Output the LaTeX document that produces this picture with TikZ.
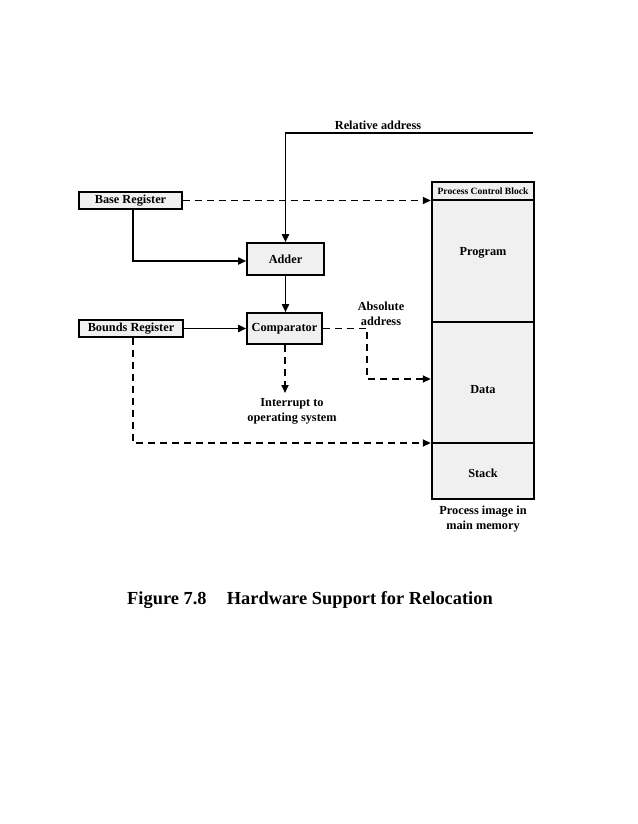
\documentclass[tikz,border=0pt]{standalone}
\usepackage{fontspec}
\setmainfont{Liberation Serif}
\usetikzlibrary{arrows.meta,patterns}
\begin{document}
\begin{tikzpicture}[x=1pt,y=-1pt,
  lbl/.style={font=\fontsize{12.3}{14.5}\selectfont\bfseries},
  regbox/.style={draw,line width=1.6pt,fill=gray!12,font=\fontsize{12.3}{14}\selectfont\bfseries,inner sep=0pt},
  memseg/.style={draw,line width=2.4pt,fill=gray!12,inner sep=0pt},
  conn/.style={line width=1.7pt,-{Triangle[length=8pt,width=7pt]}},
  dconn/.style={conn,dash pattern=on 7pt off 5pt}]
\useasboundingbox (0,0) rectangle (637,824);
% registers and units
\node[regbox,minimum width=103pt,minimum height=17pt] (base) at (130.5,200.5) {Base Register};
\node[regbox,minimum width=104pt,minimum height=17pt] (bounds) at (131,328.5) {Bounds Register};
\node[regbox,minimum width=77pt,minimum height=32pt] (adder) at (285.5,259) {Adder};
\node[regbox,minimum width=75pt,minimum height=31pt] (comp) at (284.5,328.5) {Comparator};
% memory
\node[memseg,minimum width=102pt,minimum height=18pt,font=\fontsize{9.6}{11}\selectfont\bfseries] (pcb) at (483,191) {Process Control Block};
\node[memseg,minimum width=102pt,minimum height=122pt,lbl] (prog) at (483,261) {};
\node[memseg,minimum width=102pt,minimum height=121pt,lbl] (data) at (483,382.5) {};
\node[memseg,minimum width=102pt,minimum height=56pt,lbl] (stack) at (483,471) {};
\node[lbl] at (483,253) {Program};
\node[lbl] at (483,390) {Data};
\node[lbl] at (483,473) {Stack};
\node[lbl,align=center] (pim) at (483,519) {Process image in\\main memory};
% relative address
\coordinate (rstart) at (533,133);
\coordinate (rcorner) at (285.5,133);
\draw[conn] (rstart) -- (rcorner) -- (adder.north);
\node[lbl] (rel) at (378,125) {Relative address};
% base -> pcb
\draw[dconn] (base.east) -- (pcb.west |- base.east);
% base -> adder
\coordinate (bc) at (133,261);
\draw[conn] (base.south -| bc) -- (bc) -- (adder.west |- bc);
% adder -> comp
\draw[conn] (adder.south) -- (comp.north -| adder.south);
% bounds -> comp
\draw[conn] (bounds.east) -- (comp.west |- bounds.east);
% comp -> data
\coordinate (ac1) at (367,328.5);
\coordinate (ac2) at (367,379);
\draw[dconn] (comp.east) -- (ac1) -- (ac2) -- (data.west |- ac2);
\node[lbl,align=center] (abs) at (381,314) {Absolute\\address};
% interrupt
\coordinate (intend) at (285,393);
\draw[dconn] (comp.south -| intend) -- (intend);
\node[lbl,align=center,anchor=north] (intr) at (292,395) {Interrupt to\\operating system};
% bounds -> stack boundary
\coordinate (bd) at (133,443);
\draw[dconn] (bounds.south -| bd) -- (bd) -- (data.west |- bd);
% caption
\node[font=\fontsize{18.4}{20}\selectfont\bfseries] (cap) at (310,600) {Figure 7.8\hspace{1.1em}Hardware Support for Relocation};
\end{tikzpicture}
\end{document}
